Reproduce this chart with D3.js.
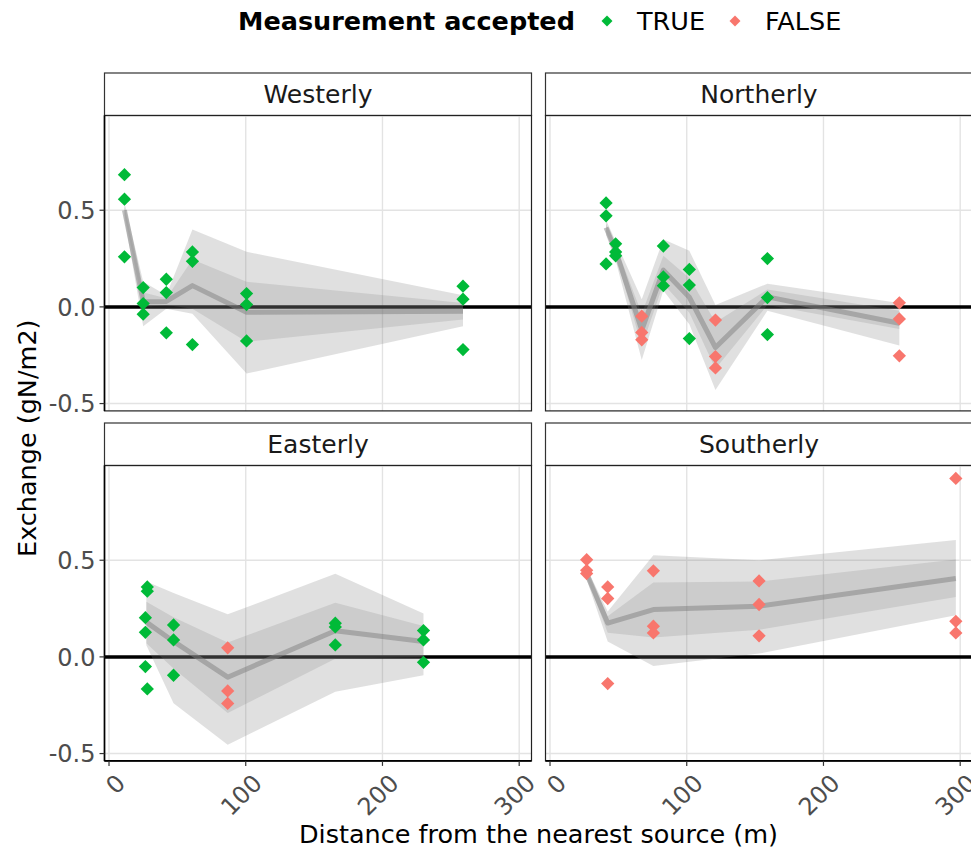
<!DOCTYPE html>
<html>
<head>
<meta charset="utf-8">
<script src="https://cdn.jsdelivr.net/npm/d3@7"></script>
<style>
  body { margin: 0; background: #fff; }
  svg { font-family: "DejaVu Sans", sans-serif; }
</style>
</head>
<body>
<div id="chart"></div>
<script>
// Facet names, in drawing order (row by row)
const panelNames = ["Westerly", "Northerly", "Easterly", "Southerly"];
const xTicks = [0, 100, 200, 300];
const yTicks = [-0.5, 0, 0.5];
const legendLabels = ["TRUE", "FALSE"];

// Measurements: [distance (m), exchange (gN/m2), accepted]
const westerlyPoints = [
  [11.3, 0.684, true], [11.3, 0.557, true], [11.3, 0.259, true],
  [25.0, 0.100, true], [25.0, 0.017, true], [25.0, -0.038, true],
  [41.9, 0.143, true], [41.9, 0.074, true], [41.9, -0.134, true],
  [61.0, 0.284, true], [61.0, 0.236, true], [61.0, -0.195, true],
  [100.6, 0.069, true], [100.6, 0.012, true], [100.6, -0.176, true],
  [258.9, 0.107, true], [258.9, 0.040, true], [258.9, -0.221, true]
];
const northerlyPoints = [
  [41.0, 0.538, true], [41.0, 0.471, true], [41.0, 0.222, true],
  [48.0, 0.326, true], [48.0, 0.284, true], [48.0, 0.264, true],
  [67.1, -0.048, false], [67.1, -0.132, false], [67.1, -0.170, false],
  [82.9, 0.315, true], [82.9, 0.155, true], [82.9, 0.110, true],
  [101.9, 0.194, true], [101.9, 0.113, true], [101.9, -0.164, true],
  [121.0, -0.068, false], [121.0, -0.257, false], [121.0, -0.316, false],
  [159.0, 0.250, true], [159.0, 0.048, true], [159.0, -0.143, true],
  [255.5, 0.021, false], [255.5, -0.062, false], [255.5, -0.253, false]
];
const easterlyPoints = [
  [28.0, 0.362, true], [28.0, 0.340, true], [26.6, 0.203, true],
  [26.6, 0.127, true], [26.6, -0.050, true], [28.0, -0.166, true],
  [47.2, 0.165, true], [47.2, 0.088, true], [47.2, -0.095, true],
  [86.8, 0.047, false], [86.8, -0.176, false], [86.8, -0.241, false],
  [165.5, 0.174, true], [165.5, 0.155, true], [165.5, 0.062, true],
  [230.0, 0.136, true], [230.0, 0.088, true], [230.0, -0.028, true]
];
const southerlyPoints = [
  [26.8, 0.503, false], [26.8, 0.448, false], [26.8, 0.431, false],
  [42.2, 0.362, false], [42.2, 0.302, false], [42.2, -0.138, false],
  [75.6, 0.445, false], [75.6, 0.159, false], [75.6, 0.124, false],
  [152.9, 0.393, false], [152.9, 0.271, false], [152.9, 0.109, false],
  [296.8, 0.923, false], [296.8, 0.184, false], [296.8, 0.124, false]
];

// Summary bands: [distance, mean, innerLow, innerHigh, outerLow, outerHigh]
const westerlySummary = [
  [11.3, 0.50, 0.48, 0.52, 0.46, 0.54],
  [25.0, 0.027, 0.0, 0.075, -0.10, 0.13],
  [41.9, 0.028, 0.01, 0.045, -0.01, 0.06],
  [61.0, 0.11, -0.01, 0.245, -0.035, 0.40],
  [100.6, -0.028, -0.18, 0.13, -0.345, 0.285],
  [258.9, -0.022, -0.065, 0.02, -0.10, 0.06]
];
const northerlySummary = [
  [41.0, 0.41, 0.39, 0.43, 0.37, 0.45],
  [48.0, 0.29, 0.27, 0.32, 0.24, 0.34],
  [67.1, -0.12, -0.205, -0.035, -0.275, 0.04],
  [82.9, 0.19, 0.12, 0.265, 0.085, 0.35],
  [101.9, 0.05, -0.03, 0.15, -0.09, 0.29],
  [121.0, -0.21, -0.32, -0.08, -0.43, 0.01],
  [159.0, 0.052, 0.01, 0.09, -0.02, 0.12],
  [255.5, -0.085, -0.115, -0.02, -0.20, 0.02]
];
const easterlySummary = [
  [27.3, 0.18, 0.07, 0.285, 0.06, 0.39],
  [47.2, 0.08, -0.06, 0.205, -0.24, 0.33],
  [86.8, -0.105, -0.29, 0.075, -0.455, 0.22],
  [165.5, 0.135, -0.01, 0.28, -0.18, 0.43],
  [230.0, 0.08, 0.0, 0.16, -0.095, 0.225]
];
const southerlySummary = [
  [26.8, 0.43, 0.415, 0.445, 0.40, 0.46],
  [42.2, 0.175, 0.125, 0.21, 0.08, 0.235],
  [75.6, 0.245, 0.10, 0.385, -0.047, 0.526],
  [152.9, 0.262, 0.14, 0.39, 0.017, 0.50],
  [296.8, 0.405, 0.31, 0.504, 0.216, 0.604]
];

const pointsByPanel = [westerlyPoints, northerlyPoints, easterlyPoints, southerlyPoints];
const summaryByPanel = [westerlySummary, northerlySummary, easterlySummary, southerlySummary];

// Layout
const width = 971, height = 852;
const panelW = 427, panelH = 295.4, stripH = 42.5;
const colX = [104.5, 545.5];
const rowY = [115.5, 465.5];
const colors = { true: "#00BA38", false: "#F8766D" };

const svg = d3.select("#chart").append("svg")
  .attr("width", width)
  .attr("height", height);

const xScale = d3.scaleLinear().domain([-3.3, 309]).range([0, panelW]);
const yScale = d3.scaleLinear().domain([-0.538, 0.99]).range([panelH, 0]);

const diamond = d3.symbol().type(d3.symbolSquare).size(88)();
const keyDiamond = d3.symbol().type(d3.symbolSquare).size(60)();

const areaOuter = d3.area().x(d => xScale(d[0])).y0(d => yScale(d[4])).y1(d => yScale(d[5]));
const areaInner = d3.area().x(d => xScale(d[0])).y0(d => yScale(d[2])).y1(d => yScale(d[3]));
const meanLine = d3.line().x(d => xScale(d[0])).y(d => yScale(d[1]));

panelNames.forEach((name, i) => {
  const col = i % 2, row = Math.floor(i / 2);
  const g = svg.append("g").attr("transform", `translate(${colX[col]},${rowY[row]})`);

  // strip
  g.append("rect")
    .attr("x", 0).attr("y", -stripH)
    .attr("width", panelW).attr("height", stripH)
    .attr("fill", "#fff").attr("stroke", "#333").attr("stroke-width", 1.2);
  g.append("text")
    .attr("x", panelW / 2).attr("y", -stripH / 2)
    .attr("dy", "0.36em")
    .attr("text-anchor", "middle")
    .attr("font-size", 25)
    .attr("fill", "#1a1a1a")
    .text(name);

  const clipId = "clip" + i;
  g.append("clipPath").attr("id", clipId)
    .append("rect").attr("width", panelW).attr("height", panelH);
  const body = g.append("g").attr("clip-path", `url(#${clipId})`);

  // grid
  body.append("g").selectAll("line").data(xTicks).join("line")
    .attr("x1", d => xScale(d)).attr("x2", d => xScale(d))
    .attr("y1", 0).attr("y2", panelH)
    .attr("stroke", "#e3e3e3").attr("stroke-width", 1.4);
  body.append("g").selectAll("line").data(yTicks).join("line")
    .attr("x1", 0).attr("x2", panelW)
    .attr("y1", d => yScale(d)).attr("y2", d => yScale(d))
    .attr("stroke", "#e3e3e3").attr("stroke-width", 1.4);

  // zero reference line
  body.append("line")
    .attr("x1", 0).attr("x2", panelW)
    .attr("y1", yScale(0)).attr("y2", yScale(0))
    .attr("stroke", "#000").attr("stroke-width", 3.5);

  const summary = summaryByPanel[i];
  body.append("path").datum(summary)
    .attr("d", areaOuter)
    .attr("fill", "#7f7f7f").attr("fill-opacity", 0.24);
  body.append("path").datum(summary)
    .attr("d", areaInner)
    .attr("fill", "#7f7f7f").attr("fill-opacity", 0.2);
  body.append("path").datum(summary)
    .attr("d", meanLine)
    .attr("fill", "none")
    .attr("stroke", "#7f7f7f").attr("stroke-opacity", 0.5)
    .attr("stroke-width", 5)
    .attr("stroke-linejoin", "round");

  // points
  body.append("g").selectAll("path").data(pointsByPanel[i]).join("path")
    .attr("d", diamond)
    .attr("transform", d => `translate(${xScale(d[0])},${yScale(d[1])}) rotate(45)`)
    .attr("fill", d => colors[d[2]]);

  // panel border
  g.append("rect")
    .attr("width", panelW).attr("height", panelH)
    .attr("fill", "none").attr("stroke", "#222").attr("stroke-width", 1.2);

  // y axis only on left column
  if (col === 0) {
    const ax = g.append("g");
    ax.append("line").attr("x1", 0).attr("x2", 0).attr("y1", 0).attr("y2", panelH)
      .attr("stroke", "#000").attr("stroke-width", 1.6);
    ax.selectAll(".tk").data(yTicks).join("line")
      .attr("x1", -5).attr("x2", 0)
      .attr("y1", d => yScale(d)).attr("y2", d => yScale(d))
      .attr("stroke", "#333").attr("stroke-width", 1.2);
    ax.selectAll("text").data(yTicks).join("text")
      .attr("x", -9).attr("y", d => yScale(d))
      .attr("dy", "0.36em")
      .attr("text-anchor", "end")
      .attr("font-size", 24)
      .attr("fill", "#4d4d4d")
      .text(d => d.toFixed(1));
  }

  // x axis only on bottom row
  if (row === 1) {
    const ax = g.append("g").attr("transform", `translate(0,${panelH})`);
    ax.append("line").attr("x1", 0).attr("x2", panelW)
      .attr("stroke", "#000").attr("stroke-width", 1.6);
    ax.selectAll(".tk").data(xTicks).join("line")
      .attr("x1", d => xScale(d)).attr("x2", d => xScale(d))
      .attr("y1", 0).attr("y2", 5)
      .attr("stroke", "#333").attr("stroke-width", 1.2);
    ax.selectAll("text").data(xTicks).join("text")
      .attr("transform", d => `translate(${xScale(d) + 5},${11}) rotate(-45)`)
      .attr("text-anchor", "end")
      .attr("dy", "0.75em")
      .attr("font-size", 24)
      .attr("fill", "#4d4d4d")
      .text(d => d);
  }
});

// axis titles
svg.append("text")
  .attr("x", (colX[0] + colX[1] + panelW) / 2)
  .attr("y", 843)
  .attr("text-anchor", "middle")
  .attr("font-size", 25.5)
  .attr("fill", "#000")
  .text("Distance from the nearest source (m)");

svg.append("text")
  .attr("transform", `translate(36,${(rowY[0] + rowY[1] + panelH) / 2}) rotate(-90)`)
  .attr("text-anchor", "middle")
  .attr("font-size", 25.5)
  .attr("fill", "#000")
  .text("Exchange (gN/m2)");

// legend
const legend = svg.append("g").attr("transform", "translate(238,21)");
legend.append("text")
  .attr("x", 0).attr("dy", "0.36em")
  .attr("font-size", 25.5).attr("font-weight", "bold")
  .text("Measurement accepted");
const legendX = [369, 497];
legendLabels.forEach((lab, k) => {
  legend.append("path")
    .attr("d", keyDiamond)
    .attr("transform", `translate(${legendX[k]},0) rotate(45)`)
    .attr("fill", colors[lab === "TRUE"]);
  legend.append("text")
    .attr("x", legendX[k] + 30).attr("dy", "0.36em")
    .attr("font-size", 25.5)
    .text(lab);
});
</script>
</body>
</html>
